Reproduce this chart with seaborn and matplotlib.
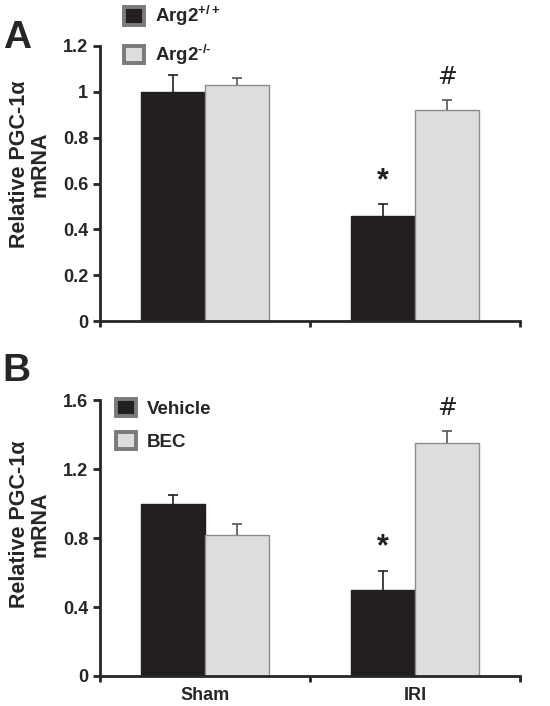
import pandas as pd
import matplotlib
matplotlib.use('Agg')
import matplotlib.pyplot as plt
import seaborn as sns

conditions = ['Sham', 'IRI']

# panel A
groups_a = ['Arg2$^{+/+}$', 'Arg2$^{\u2010/\u2010}$']
mean_a = [[1.00, 0.46], [1.03, 0.92]]
err_a = [[0.075, 0.05], [0.03, 0.045]]
marks_a = [['', '*'], ['', '#']]

# panel B
groups_b = ['Vehicle', 'BEC']
mean_b = [[1.00, 0.50], [0.82, 1.35]]
err_b = [[0.05, 0.11], [0.06, 0.07]]
marks_b = [['', '*'], ['', '#']]

sns.set_style('white')
plt.rcParams['font.family'] = ['Liberation Sans', 'DejaVu Sans']
plt.rcParams['font.weight'] = 'bold'
plt.rcParams['mathtext.fontset'] = 'custom'
plt.rcParams['mathtext.rm'] = 'Liberation Sans:bold'
plt.rcParams['mathtext.it'] = 'Liberation Sans:bold'
plt.rcParams['mathtext.bf'] = 'Liberation Sans:bold'

colors = ['#231f20', '#dcdddf']
edges = ['#231f20', '#8c8c8c']
errc = ['#231f20', '#555555']

fig = plt.figure(figsize=(5.5, 7.06), dpi=100)
ax_a = fig.add_axes([0.182, 0.545, 0.763, 0.39])
ax_b = fig.add_axes([0.182, 0.0425, 0.763, 0.3905])


def panel(ax, groups, means, errs, marks, ymax, yticks, ytlabels, show_x,
          leg_anchor, label_y):
    df = pd.DataFrame([
        {'cond': c, 'group': g, 'val': means[j][i]}
        for j, g in enumerate(groups) for i, c in enumerate(conditions)
    ])
    sns.barplot(data=df, x='cond', y='val', hue='group', order=conditions,
                hue_order=groups, palette=colors, width=0.61, errorbar=None,
                ax=ax, legend=False, saturation=1)
    for j in range(len(groups)):
        cont = ax.containers[j]
        for i, p in enumerate(cont.patches):
            p.set_edgecolor(edges[j])
            p.set_linewidth(1.0)
            x = p.get_x() + p.get_width() / 2
            top = means[j][i]
            hi = top + errs[j][i]
            ax.vlines(x, top, hi, colors=errc[j], linewidth=1.2, zorder=3)
            ax.plot([x], [hi], marker='_', markersize=7, markeredgewidth=1.2,
                    color=errc[j], zorder=3)
            if marks[j][i]:
                star = marks[j][i] == '*'
                ax.text(x, hi + ymax * (0.03 if star else 0.04), marks[j][i],
                        ha='center', va='bottom',
                        fontsize=22 if star else 17,
                        fontweight='bold' if star else 'normal',
                        family='DejaVu Sans' if not star else None,
                        color='#231f20')
    ax.set_xlim(-0.5, 1.5)
    ax.set_ylim(0, ymax)
    ax.set_yticks(yticks)
    ax.set_yticklabels(ytlabels, fontsize=13, fontweight='bold')
    ax.set_xticks([0, 1])
    ax.set_xticks([-0.5, 0.5, 1.5], minor=True)
    ax.tick_params(axis='x', which='major', length=0, pad=8)
    ax.tick_params(axis='x', which='minor', length=4, width=2, direction='out',
                   bottom=True)
    ax.tick_params(axis='y', length=5, width=2, direction='out', left=True)
    if show_x:
        ax.set_xticklabels(conditions, fontsize=13, fontweight='bold')
    else:
        ax.set_xticklabels([])
    ax.set_xlabel('')
    ax.set_ylabel('Relative PGC-1\u03b1\nmRNA', fontsize=15.5, fontweight='bold',
                  linespacing=1.0)
    ax.yaxis.set_label_coords(-0.118, label_y)
    sns.despine(ax=ax)
    ax.spines['left'].set_linewidth(2)
    ax.spines['bottom'].set_linewidth(2)
    handles = [plt.Rectangle((0, 0), 1, 1, facecolor=colors[k],
                             edgecolor='#7a7a7a', linewidth=2.8)
               for k in range(2)]
    ax.legend(handles, groups, loc='upper left', bbox_to_anchor=leg_anchor,
              frameon=False, prop={'size': 13.5, 'weight': 'bold'},
              handlelength=1.05, handleheight=1.05, labelspacing=0.75,
              handletextpad=0.6, borderaxespad=0)


panel(ax_a, groups_a, mean_a, err_a, marks_a, 1.2,
      [0, 0.2, 0.4, 0.6, 0.8, 1.0, 1.2], ['0', '0.2', '0.4', '0.6', '0.8', '1', '1.2'],
      False, (0.04, 1.178), 0.57)
panel(ax_b, groups_b, mean_b, err_b, marks_b, 1.6,
      [0, 0.4, 0.8, 1.2, 1.6], ['0', '0.4', '0.8', '1.2', '1.6'],
      True, (0.02, 1.033), 0.55)

fig.text(0.005, 0.946, 'A', fontsize=28, fontweight='bold', va='center')
fig.text(0.005, 0.475, 'B', fontsize=28, fontweight='bold', va='center')

fig.savefig('out.png', dpi=100)
